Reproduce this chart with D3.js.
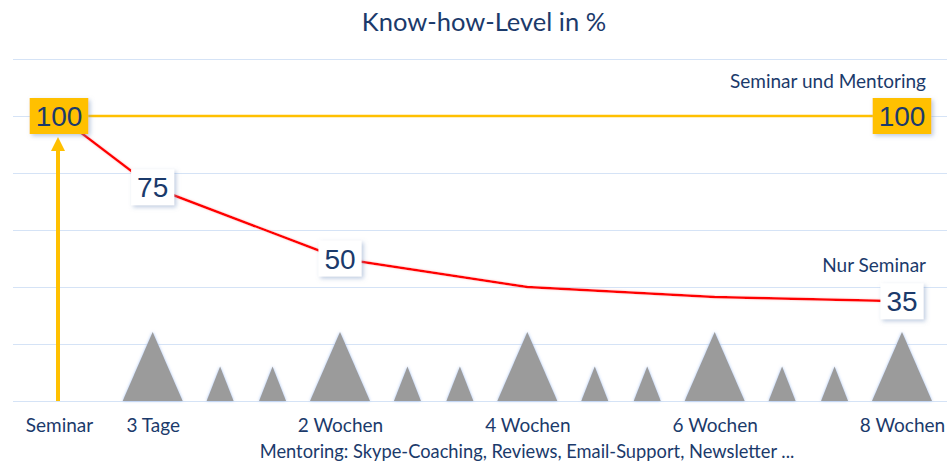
<!DOCTYPE html>
<html>
<head>
<meta charset="utf-8">
<script src="https://cdn.jsdelivr.net/npm/d3@7"></script>
<style>
  body { margin: 0; background: #fff; }
  svg { display: block; }
  .txt { font-family: Lato, "Open Sans", sans-serif; fill: #1b3a6b; }
  .num { font-family: "Liberation Sans", Arial, sans-serif; fill: #1b3a6b; }
</style>
</head>
<body>
<svg id="canvas" width="947" height="464"></svg>
<script>
// x-Achse: Zeitpunkte (Index in Wochen-Schritten, Seminar liegt vor "3 Tage")
let zeitpunkte = [-0.5, 0, 1, 2, 3, 4]
let zeitLabels = ['Seminar', '3 Tage', '2 Wochen', '4 Wochen', '6 Wochen', '8 Wochen']

// Nur Seminar (rote Kurve)
let nurSeminar = [100, 75, 50, 40, 36.5, 35]
let nurSeminarLabel = [false, true, true, false, false, true]

// Seminar und Mentoring (gelbe Linie)
let mitMentoringX = [-0.5, 4]
let mitMentoring = [100, 100]

// Mentoring-Termine (gross = Coaching, klein = Review/Support)
let mentoringX = [0, 0.36, 0.64, 1, 1.36, 1.64, 2, 2.36, 2.64, 3, 3.36, 3.64, 4]
let mentoringStaerke = [2, 1, 1, 2, 1, 1, 2, 1, 1, 2, 1, 1, 2]

let gridTicks = [0, 20, 40, 60, 80, 100, 120]

let titel = 'Know-how-Level in %'
let mentoringText = 'Mentoring: Skype-Coaching, Reviews, Email-Support, Newsletter ...'

let canvas = d3.select('#canvas')
let gelb = '#ffc000'

let xScale = d3.scaleLinear().domain([-0.5, 4]).range([59, 902])
let yScale = d3.scaleLinear().domain([0, 120]).range([401, 59])
let hScale = d3.scaleLinear().domain([0, 2]).range([0, 69])
let wScale = d3.scaleLinear().domain([0, 2]).range([0, 60])

// filter
let defs = canvas.append('defs')
defs.append('filter').attr('id', 'boxShadow')
    .attr('x', '-30%').attr('y', '-30%').attr('width', '170%').attr('height', '170%')
    .append('feDropShadow')
    .attr('dx', 2).attr('dy', 2).attr('stdDeviation', 2.2)
    .attr('flood-color', '#7d97c2').attr('flood-opacity', 0.5)
defs.append('filter').attr('id', 'glow')
    .attr('x', '-30%').attr('y', '-30%').attr('width', '160%').attr('height', '160%')
    .append('feDropShadow')
    .attr('dx', 0).attr('dy', 0).attr('stdDeviation', 1.6)
    .attr('flood-color', '#9dbdf0').attr('flood-opacity', 0.9)
defs.append('filter').attr('id', 'lineGlow')
    .attr('x', '-10%').attr('y', '-30%').attr('width', '120%').attr('height', '160%')
    .append('feDropShadow')
    .attr('dx', 0).attr('dy', 0).attr('stdDeviation', 1)
    .attr('flood-color', '#ffb0b0').attr('flood-opacity', 0.7)

// title
canvas.append('text')
    .attr('class', 'txt')
    .attr('x', 484).attr('y', 31)
    .attr('text-anchor', 'middle')
    .style('font-size', '25.5px')
    .text(titel)

// gridlines
let grid = canvas.append('g')
    .attr('transform', 'translate(947,0)')
    .call(d3.axisLeft(yScale).tickValues(gridTicks).tickSize(947 - 13).tickFormat(''))
grid.select('.domain').remove()
grid.selectAll('line').attr('stroke', '#d5e3f6').attr('stroke-width', 1.2)

// mentoring triangles
canvas.append('g')
    .selectAll('path')
    .data(mentoringX)
    .enter()
    .append('path')
    .attr('d', (d, i) => {
        let cx = xScale(d)
        let h = hScale(mentoringStaerke[i])
        let w = wScale(mentoringStaerke[i]) * (mentoringStaerke[i] === 1 ? 0.9 : 1)
        let b = yScale(0)
        return 'M' + (cx - w / 2) + ',' + b + 'L' + cx + ',' + (b - h) + 'L' + (cx + w / 2) + ',' + b + 'Z'
    })
    .attr('fill', '#9b9b9b')
    .attr('filter', 'url(#glow)')

// x axis labels
let xAxis = canvas.append('g')
    .attr('transform', 'translate(0,' + 415 + ')')
    .call(d3.axisBottom(xScale).tickValues(zeitpunkte).tickSize(0)
        .tickFormat((d, i) => zeitLabels[i]))
xAxis.select('.domain').remove()
xAxis.selectAll('text')
    .attr('class', 'txt')
    .attr('fill', null)
    .style('font-size', '19px')
    .style('font-family', 'Lato, sans-serif')

canvas.append('text')
    .attr('class', 'txt')
    .attr('x', 527).attr('y', 458)
    .attr('text-anchor', 'middle')
    .style('font-size', '18.3px')
    .text(mentoringText)

// arrow Seminar
let ax = xScale(zeitpunkte[0]) - 1
let arrowTop = yScale(mitMentoring[0]) + 21
canvas.append('line')
    .attr('x1', ax).attr('x2', ax)
    .attr('y1', yScale(0)).attr('y2', arrowTop + 10)
    .attr('stroke', gelb).attr('stroke-width', 4)
canvas.append('path')
    .attr('d', 'M' + (ax - 7) + ',' + (arrowTop + 14) + 'L' + ax + ',' + arrowTop + 'L' + (ax + 7) + ',' + (arrowTop + 14) + 'Z')
    .attr('fill', gelb)

// yellow line
let line = d3.line()
    .x((d, i) => xScale(mitMentoringX[i]))
    .y((d) => yScale(d))
canvas.append('path')
    .attr('d', line(mitMentoring))
    .attr('fill', 'none')
    .attr('stroke', gelb)
    .attr('stroke-width', 2.5)

// red curve
let curve = d3.line()
    .x((d, i) => xScale(zeitpunkte[i]))
    .y((d) => yScale(d))
canvas.append('path')
    .attr('d', curve(nurSeminar))
    .attr('fill', 'none')
    .attr('stroke', '#ff0000')
    .attr('stroke-width', 2.5)
    .attr('stroke-linejoin', 'round')
    .attr('filter', 'url(#lineGlow)')

// value boxes
let drawBox = (x, y, value, fill) => {
    let g = canvas.append('g').attr('transform', 'translate(' + x + ',' + y + ')')
    let rect = g.append('rect').attr('fill', fill).attr('filter', 'url(#boxShadow)')
    let t = g.append('text')
        .attr('class', 'num')
        .attr('text-anchor', 'middle')
        .attr('dy', '0.36em')
        .style('font-size', '28px')
        .text(value)
    let w = t.node().getComputedTextLength() + 12
    rect.attr('x', -w / 2).attr('y', -18).attr('width', w).attr('height', 36)
}

mitMentoring.forEach((v, i) => {
    drawBox(xScale(mitMentoringX[i]), yScale(v), v, gelb)
})
nurSeminar.forEach((v, i) => {
    if (nurSeminarLabel[i]) {
        drawBox(xScale(zeitpunkte[i]), yScale(v), v, '#ffffff')
    }
})

// series labels
canvas.append('text')
    .attr('class', 'txt')
    .attr('x', 926).attr('y', 88)
    .attr('text-anchor', 'end')
    .style('font-size', '19px')
    .text('Seminar und Mentoring')
canvas.append('text')
    .attr('class', 'txt')
    .attr('x', 926).attr('y', 272)
    .attr('text-anchor', 'end')
    .style('font-size', '19px')
    .text('Nur Seminar')
</script>
</body>
</html>
